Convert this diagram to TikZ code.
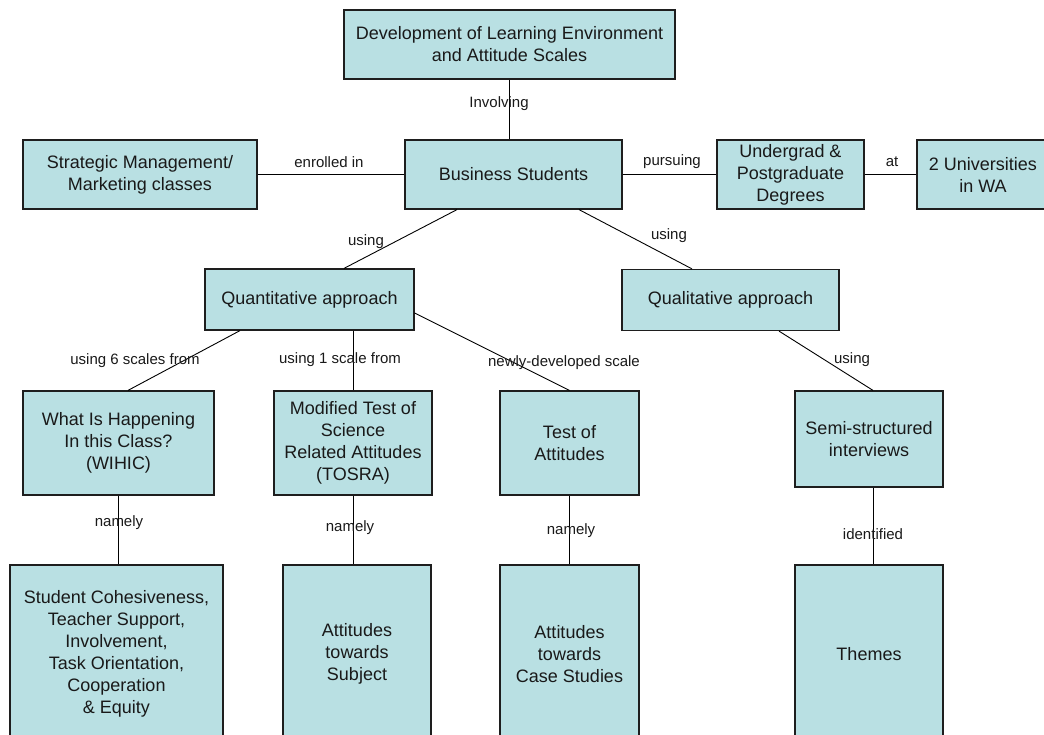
\documentclass[tikz,border=0pt]{standalone}
\usepackage{fontspec}
\setmainfont{Liberation Sans}
\definecolor{boxfill}{RGB}{185,224,227}
\definecolor{edge}{RGB}{30,30,30}
\begin{document}
\begin{tikzpicture}[x=1pt,y=-1pt,
  box/.style={draw=edge, line width=1.2pt, fill=boxfill, align=center, inner sep=0pt,
              font=\fontsize{18}{22}\selectfont, text=black!90},
  lbl/.style={font=\fontsize{15}{18}\selectfont, inner sep=0pt, text=black!90},
  conn/.style={line width=0.9pt, draw=black}]
\useasboundingbox (0,0) rectangle (1044,735);
\clip (0,0) rectangle (1044,735);

% boxes
\node[box, minimum width=331pt, minimum height=69pt] (dev) at (509.5,44.5) {Development of Learning Environment\\and Attitude Scales};
\node[box, minimum width=234pt, minimum height=69pt] (strat) at (140,174.5) {Strategic Management/\\Marketing classes};
\node[box, minimum width=217pt, minimum height=69pt] (bus) at (513.5,174.5) {Business Students};
\node[box, minimum width=147pt, minimum height=69pt] (ugd) at (790.5,174.5) {Undergrad \&\\Postgraduate\\Degrees};
\node[box, minimum width=132pt, minimum height=69pt] (uni) at (983,174.5) {2 Universities\\in WA};
\node[box, minimum width=209pt, minimum height=61pt] (quant) at (309.5,299.5) {Quantitative approach};
\node[box, minimum width=217pt, minimum height=61pt] (qual) at (730.5,300) {Qualitative approach};
\node[box, minimum width=191pt, minimum height=104pt] (wihic) at (118.5,443) {What Is Happening\\In this Class?\\(WIHIC)};
\node[box, minimum width=158pt, minimum height=104pt] (tosra) at (353,443) {Modified Test of\\Science\\Related Attitudes\\(TOSRA)};
\node[box, minimum width=139pt, minimum height=104pt] (toa) at (569.5,443) {Test of\\Attitudes};
\node[box, minimum width=148pt, minimum height=96pt] (semi) at (869,439) {Semi-structured\\interviews};
\node[box, minimum width=213pt, minimum height=178pt] (sc) at (116.5,654) {Student Cohesiveness,\\Teacher Support,\\Involvement,\\Task Orientation,\\Cooperation\\\& Equity};
\node[box, minimum width=148pt, minimum height=178pt] (ats) at (357,654) {Attitudes\\towards\\Subject};
\node[box, minimum width=139pt, minimum height=178pt] (acs) at (569.5,654) {Attitudes\\towards\\Case Studies};
\node[box, minimum width=148pt, minimum height=178pt] (themes) at (869,654) {Themes};

% connectors
\draw[conn] (dev.south) -- (dev.south |- bus.north);
\draw[conn] (strat.east) -- (bus.west);
\draw[conn] (bus.east) -- (ugd.west);
\draw[conn] (ugd.east) -- (uni.west);
\draw[conn] ([xshift=-56.5pt]bus.south) -- ([xshift=34.5pt]quant.north);
\draw[conn] ([xshift=65.5pt]bus.south) -- ([xshift=-38.5pt]qual.north);
\draw[conn] ([xshift=-69.5pt]quant.south) -- ([xshift=9.5pt]wihic.north);
\draw[conn] (tosra.north |- quant.south) -- (tosra.north);
\draw[conn] ([yshift=-13.5pt]quant.east) -- (toa.north);
\draw[conn] ([xshift=48.5pt]qual.south) -- ([xshift=4pt]semi.north);
\draw[conn] (wihic.south) -- (wihic.south |- sc.north);
\draw[conn] (tosra.south) -- (tosra.south |- ats.north);
\draw[conn] (toa.south) -- (toa.south |- acs.north);
\draw[conn] ([xshift=4pt]semi.south) -- ([xshift=4pt]themes.north);

% labels
\node[lbl] (l1) at (499,104) {Involving};
\node[lbl] (l2) at (329,162) {enrolled in};
\node[lbl] (l3) at (672,162) {pursuing};
\node[lbl] (l4) at (892,162) {at};
\node[lbl] (l5) at (366,242) {using};
\node[lbl] (l6) at (669,236) {using};
\node[lbl] (l7) at (135,361) {using 6 scales from};
\node[lbl] (l8) at (340,360) {using 1 scale from};
\node[lbl] (l9) at (564,363) {newly-developed scale};
\node[lbl] (l10) at (852,360) {using};
\node[lbl] (l11) at (119,523) {namely};
\node[lbl] (l12) at (350,528) {namely};
\node[lbl] (l13) at (571,531) {namely};
\node[lbl] (l14) at (873,534) {identified};
\end{tikzpicture}
\end{document}
